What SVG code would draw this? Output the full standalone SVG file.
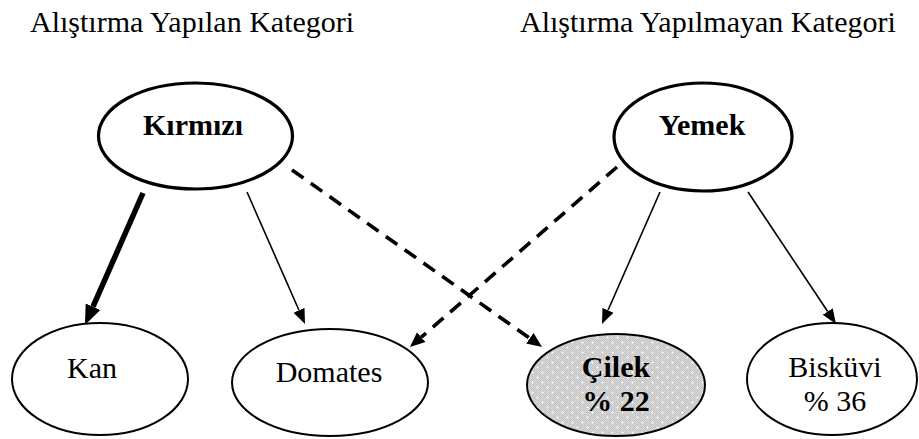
<svg xmlns="http://www.w3.org/2000/svg" width="919" height="439" viewBox="0 0 919 439">
  <style>
    .txt { font-family: 'Liberation Serif', 'DejaVu Serif', serif; font-size: 30px; fill: #000; }
    .lbl { text-anchor: middle; }
    .bold { font-weight: bold; }
    .top { fill: #fff; stroke: #000; stroke-width: 3.2; }
    .leaf { fill: #fff; stroke: #000; stroke-width: 2; }
    .hl { fill: url(#dots); stroke: #000; stroke-width: 2; }
    .thin { stroke: #000; stroke-width: 1.6; fill: none; marker-end: url(#head); }
    .thick { stroke: #000; stroke-width: 5.5; fill: none; marker-end: url(#headBig); }
    .dash { stroke: #000; stroke-width: 3.6; fill: none; stroke-dasharray: 14 9; marker-end: url(#headDash); }
  </style>
  <defs>
    <marker id="head" markerUnits="userSpaceOnUse" markerWidth="16" markerHeight="14" refX="0" refY="7" orient="auto">
      <path d="M0,1 L15,7 L0,13 Z" fill="#000"/>
    </marker>
    <marker id="headDash" markerUnits="userSpaceOnUse" markerWidth="16" markerHeight="14" refX="0" refY="7" orient="auto">
      <path d="M0,0.5 L15,7 L0,13.5 Z" fill="#000"/>
    </marker>
    <marker id="headBig" markerUnits="userSpaceOnUse" markerWidth="21" markerHeight="18" refX="0" refY="9" orient="auto">
      <path d="M0,1 L20,9 L0,17 Z" fill="#000"/>
    </marker>
    <pattern id="checker" width="2" height="2" patternUnits="userSpaceOnUse">
      <rect width="2" height="2" fill="#d6d6d6"/>
      <rect width="1" height="1" fill="#c6c6c6"/>
      <rect x="1" y="1" width="1" height="1" fill="#c6c6c6"/>
    </pattern>
    <pattern id="dots" width="10" height="10" patternUnits="userSpaceOnUse">
      <rect width="10" height="10" fill="url(#checker)"/>
      <circle cx="2.5" cy="2.5" r="0.9" fill="#fff"/>
      <circle cx="7.5" cy="7.5" r="0.9" fill="#fff"/>
    </pattern>
  </defs>

  <!-- category headings -->
  <g font-family="Liberation Serif, DejaVu Serif, serif">
    <text class="txt" x="30" y="32">Alıştırma Yapılan Kategori</text>
    <text class="txt" x="520" y="32">Alıştırma Yapılmayan Kategori</text>
  </g>

  <!-- connectors -->
  <g id="connectors">
    <line class="thick" x1="143" y1="193" x2="93" y2="306.7"/>
    <line class="thin" x1="247" y1="192" x2="299" y2="310.3"/>
    <line class="dash" x1="292" y1="170" x2="529.8" y2="338.3"/>
    <line class="dash" x1="617" y1="167" x2="421.3" y2="337.2"/>
    <line class="thin" x1="660" y1="192" x2="608" y2="310.3"/>
    <line class="thin" x1="748" y1="192" x2="827.7" y2="311.5"/>
  </g>

  <g id="kirmizi">
    <ellipse class="top" cx="195.5" cy="136" rx="97" ry="53"/>
    <text class="txt lbl bold" x="193" y="135">Kırmızı</text>
  </g>
  <g id="yemek">
    <ellipse class="top" cx="703" cy="137" rx="89" ry="54"/>
    <text class="txt lbl bold" x="702" y="135">Yemek</text>
  </g>
  <g id="kan">
    <ellipse class="leaf" cx="100" cy="379" rx="88" ry="56"/>
    <text class="txt lbl" x="92" y="378">Kan</text>
  </g>
  <g id="domates">
    <ellipse class="leaf" cx="330" cy="382.5" rx="98" ry="53.5"/>
    <text class="txt lbl" x="329" y="382">Domates</text>
  </g>
  <g id="cilek">
    <ellipse class="hl" cx="616" cy="385" rx="89" ry="51"/>
    <text class="txt lbl bold" x="616" y="377">Çilek</text>
    <text class="txt lbl bold" x="616" y="411">% 22</text>
  </g>
  <g id="biskuvi">
    <ellipse class="leaf" cx="832" cy="379" rx="85" ry="56"/>
    <text class="txt lbl" x="835" y="377">Bisküvi</text>
    <text class="txt lbl" x="835" y="411">% 36</text>
  </g>
</svg>
